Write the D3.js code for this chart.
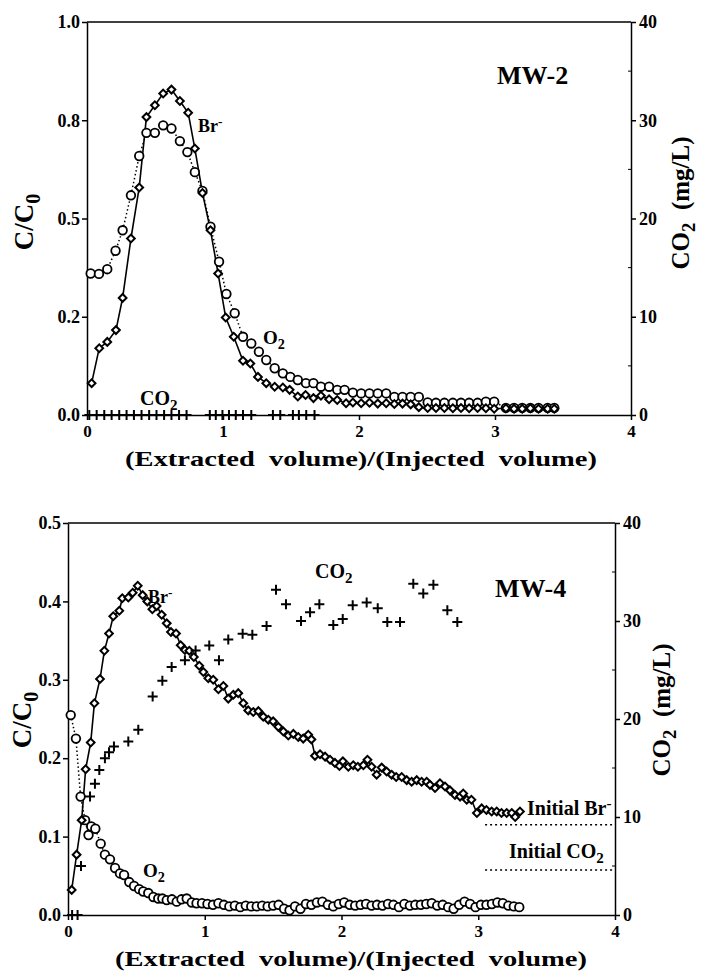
<!DOCTYPE html>
<html>
<head>
<meta charset="utf-8">
<script src="https://cdn.jsdelivr.net/npm/d3@7"></script>
<style>
body { margin: 0; background: #fff; }
text { font-family: "Liberation Serif", "Times New Roman", serif; font-weight: bold; fill: #000; }
</style>
</head>
<body>
<svg id="chart" width="701" height="976"></svg>
<script>
// ---- axis ticks ----
const xTicks = [0, 1, 2, 3, 4]
const rightTicks = [0, 10, 20, 30, 40]
const rightMinor = [5, 15, 25, 35]
const mw2LeftTicks = [0, 0.25, 0.5, 0.75, 1]
const mw2LeftLabels = ["0.0", "0.2", "0.5", "0.8", "1.0"]
const mw4LeftTicks = [0, 0.1, 0.2, 0.3, 0.4, 0.5]
const mw4LeftLabels = ["0.0", "0.1", "0.2", "0.3", "0.4", "0.5"]

// ---- MW-2 : [volume ratio, C/C0] ----
const mw2Br = [[0.034,0.081],[0.09,0.17],[0.149,0.186],[0.213,0.216],[0.262,0.298],[0.323,0.449],[0.384,0.579],[0.437,0.758],
  [0.499,0.788],[0.56,0.818],[0.621,0.828],[0.683,0.799],[0.744,0.769],[0.793,0.678],[0.849,0.565],[0.908,0.47],[0.964,0.36],
  [1.02,0.248],[1.079,0.199],[1.147,0.138],[1.201,0.131],[1.257,0.097],[1.318,0.081],[1.38,0.072],[1.44,0.07],[1.49,0.064],
  [1.55,0.047],[1.607,0.051],[1.665,0.043],[1.72,0.049],[1.78,0.04],[1.84,0.038],[1.905,0.03],[1.955,0.032],[2.016,0.03],
  [2.077,0.031],[2.138,0.029],[2.2,0.03],[2.26,0.028],[2.32,0.029],[2.38,0.027],[2.44,0.02],[2.505,0.018],[2.566,0.018],
  [2.628,0.018],[2.69,0.017],[2.75,0.018],[2.81,0.017],[2.872,0.018],[2.933,0.017],[2.994,0.016],[3.08,0.017],[3.14,0.016],
  [3.2,0.016],[3.26,0.017],[3.32,0.016],[3.387,0.016],[3.436,0.016]]
const mw2O2 = [[0.027,0.36],[0.088,0.359],[0.149,0.371],[0.21,0.418],[0.262,0.47],[0.323,0.559],[0.384,0.659],[0.437,0.718],
  [0.499,0.718],[0.56,0.737],[0.621,0.729],[0.683,0.697],[0.738,0.669],[0.793,0.618],[0.849,0.57],[0.908,0.479],[0.971,0.39],
  [1.025,0.308],[1.086,0.259],[1.147,0.199],[1.208,0.182],[1.264,0.161],[1.318,0.14],[1.38,0.119],[1.44,0.106],[1.495,0.097],
  [1.55,0.089],[1.61,0.081],[1.665,0.081],[1.72,0.072],[1.78,0.072],[1.84,0.064],[1.894,0.064],[1.955,0.057],[2.016,0.055],
  [2.077,0.055],[2.138,0.055],[2.2,0.055],[2.26,0.046],[2.32,0.046],[2.38,0.046],[2.44,0.046],[2.505,0.032],[2.566,0.031],
  [2.628,0.031],[2.69,0.031],[2.75,0.031],[2.81,0.031],[2.872,0.031],[2.933,0.034],[2.994,0.034],[3.08,0.018],[3.14,0.018],
  [3.2,0.018],[3.26,0.018],[3.32,0.018],[3.387,0.018],[3.436,0.018]]
// CO2 (mg/L) - all zero at MW-2
const mw2CO2 = [[0.017,0],[0.071,0],[0.127,0],[0.181,0],[0.237,0],[0.291,0],[0.345,0],[0.401,0],[0.457,0],[0.511,0],
  [0.567,0],[0.621,0],[0.677,0],[0.732,0],[0.903,0],[0.947,0],[0.996,0],[1.044,0],[1.094,0],[1.147,0],[1.208,0],
  [1.367,0],[1.421,0],[1.514,0],[1.558,0],[1.612,0],[1.673,0]]

// ---- MW-4 ----
const mw4Br = [[0.027,0.032],[0.063,0.077],[0.1,0.121],[0.129,0.186],[0.166,0.22],[0.193,0.27],[0.234,0.301],[0.266,0.337],
  [0.3,0.359],[0.331,0.381],[0.375,0.388],[0.397,0.404],[0.441,0.405],[0.473,0.411],[0.51,0.42],[0.546,0.408],[0.58,0.4],
  [0.617,0.39],[0.648,0.394],[0.685,0.383],[0.722,0.372],[0.753,0.361],[0.79,0.359],[0.824,0.344],[0.855,0.338],[0.887,0.337],
  [0.92,0.329],[0.96,0.318],[0.99,0.31],[1.026,0.302],[1.062,0.3],[1.1,0.288],[1.136,0.292],[1.172,0.276],[1.209,0.281],
  [1.245,0.283],[1.282,0.27],[1.318,0.261],[1.355,0.259],[1.392,0.26],[1.428,0.253],[1.465,0.249],[1.5,0.247],[1.538,0.24],
  [1.575,0.234],[1.611,0.229],[1.648,0.231],[1.684,0.227],[1.72,0.225],[1.757,0.23],[1.78,0.224],[1.806,0.203],[1.843,0.205],
  [1.88,0.202],[1.916,0.198],[1.952,0.194],[1.985,0.19],[2.01,0.196],[2.05,0.189],[2.086,0.191],[2.12,0.189],[2.16,0.191],
  [2.19,0.198],[2.22,0.189],[2.257,0.179],[2.294,0.188],[2.33,0.183],[2.367,0.179],[2.4,0.176],[2.44,0.176],[2.477,0.172],
  [2.513,0.17],[2.55,0.172],[2.586,0.17],[2.623,0.17],[2.647,0.166],[2.684,0.162],[2.72,0.168],[2.757,0.164],[2.793,0.159],
  [2.83,0.153],[2.867,0.151],[2.89,0.155],[2.916,0.147],[2.95,0.147],[2.99,0.13],[3.025,0.136],[3.06,0.134],[3.098,0.132],
  [3.135,0.132],[3.17,0.13],[3.208,0.13],[3.245,0.13],[3.27,0.125],[3.305,0.132]]
const mw4O2 = [[0.02,0.255],[0.058,0.225],[0.092,0.151],[0.125,0.121],[0.15,0.102],[0.17,0.113],[0.2,0.11],[0.239,0.091],
  [0.27,0.077],[0.307,0.071],[0.344,0.06],[0.38,0.053],[0.41,0.051],[0.448,0.042],[0.483,0.037],[0.52,0.033],[0.55,0.03],
  [0.587,0.028],[0.624,0.023],[0.66,0.021],[0.69,0.021],[0.722,0.019],[0.76,0.02],[0.795,0.017],[0.83,0.02],[0.868,0.021],
  [0.905,0.016],[0.94,0.015],[0.98,0.015],[1.02,0.014],[1.06,0.013],[1.1,0.015],[1.14,0.013],[1.18,0.011],[1.22,0.012],
  [1.26,0.01],[1.3,0.012],[1.34,0.011],[1.38,0.011],[1.42,0.012],[1.46,0.011],[1.5,0.012],[1.54,0.013],[1.58,0.008],
  [1.62,0.006],[1.66,0.011],[1.7,0.008],[1.74,0.014],[1.78,0.013],[1.82,0.016],[1.86,0.017],[1.9,0.013],[1.94,0.011],
  [1.98,0.014],[2.02,0.016],[2.06,0.013],[2.1,0.012],[2.14,0.013],[2.18,0.014],[2.22,0.012],[2.26,0.013],[2.3,0.012],
  [2.34,0.014],[2.38,0.013],[2.42,0.01],[2.46,0.014],[2.5,0.012],[2.54,0.013],[2.58,0.013],[2.62,0.014],[2.66,0.015],
  [2.7,0.012],[2.74,0.013],[2.78,0.01],[2.82,0.008],[2.86,0.013],[2.9,0.017],[2.94,0.014],[2.98,0.01],[3.02,0.013],
  [3.06,0.013],[3.1,0.014],[3.14,0.016],[3.18,0.015],[3.22,0.012],[3.26,0.011],[3.3,0.01]]
const mw4CO2 = [[0.03,0],[0.07,0],[0.095,5.0],[0.161,12.1],[0.197,13.4],[0.229,14.8],[0.27,16.0],[0.3,16.6],[0.336,17.2],
  [0.441,17.7],[0.514,18.9],[0.619,22.3],[0.69,23.9],[0.758,25.3],[0.855,26.0],[0.933,27.0],[1.033,27.5],[1.104,26.0],
  [1.172,28.1],[1.277,28.7],[1.348,28.6],[1.452,29.5],[1.521,33.2],[1.594,31.7],[1.704,30.0],[1.77,30.9],[1.838,31.7],
  [1.94,29.6],[2.009,30.2],[2.082,31.6],[2.184,31.9],[2.265,31.3],[2.335,29.9],[2.428,29.9],[2.525,33.8],[2.598,32.8],
  [2.672,33.7],[2.774,31.1],[2.847,29.9]]
// initial levels (dotted reference lines at MW-4)
const initialBr = 0.115      // C/C0
const initialCO2 = 4.6       // mg/L
const initialFrom = 3.05

const svg = d3.select('#chart')

function addText(g, x, y, parts, size, anchor) {
  const t = g.append('text').attr('x', x).attr('y', y).attr('font-size', size).attr('text-anchor', anchor || 'start')
  parts.forEach(p => {
    const s = t.append('tspan').text(p.t)
    if (p.sub) s.attr('font-size', size * 0.75).attr('dy', size * 0.25)
    if (p.sup) s.attr('font-size', size * 0.75).attr('dy', -size * 0.35)
    if (p.back) s.attr('dy', p.back)
  })
  return t
}

function panel(cfg) {
  const g = svg.append('g')
  const x = d3.scaleLinear().domain([0, 4]).range([cfg.left, cfg.right])
  const yL = d3.scaleLinear().domain([0, cfg.yMax]).range([cfg.bottom, cfg.top])
  const yR = d3.scaleLinear().domain([0, 40]).range([cfg.bottom, cfg.top])

  g.append('line')
    .attr('x1', cfg.left).attr('x2', cfg.right)
    .attr('y1', cfg.top).attr('y2', cfg.top)
    .attr('stroke', '#000').attr('stroke-width', 1.3)

  const xa = g.append('g').attr('transform', `translate(0,${cfg.bottom})`)
    .call(d3.axisBottom(x).tickValues(xTicks).tickFormat(d3.format('d')).tickSize(5).tickSizeOuter(0).tickPadding(5))
  const la = g.append('g').attr('transform', `translate(${cfg.left},0)`)
    .call(d3.axisLeft(yL).tickValues(cfg.leftTicks).tickFormat((d, i) => cfg.leftLabels[i]).tickSize(5).tickSizeOuter(0).tickPadding(2))
  const ra = g.append('g').attr('transform', `translate(${cfg.right},0)`)
    .call(d3.axisRight(yR).tickValues(rightTicks).tickSize(5).tickSizeOuter(0).tickPadding(3))
  g.append('g').selectAll('line').data(rightMinor).join('line')
    .attr('x1', cfg.right - 3).attr('x2', cfg.right)
    .attr('y1', d => yR(d)).attr('y2', d => yR(d))
    .attr('stroke', '#000').attr('stroke-width', 1)

  ;[xa, la, ra].forEach(a => {
    a.select('.domain').attr('stroke', '#000').attr('stroke-width', 1.5)
    a.selectAll('.tick line').attr('stroke', '#000').attr('stroke-width', 1.5)
    a.selectAll('text').attr('font-size', null).style('font-size', '18px').style('font-family', null)
  })
  xa.selectAll('text').style('font-size', '17px')

  // O2 dotted line, Br- solid line
  const line = d3.line().x(d => x(d[0])).y(d => yL(d[1]))
  g.append('path').datum(cfg.o2).attr('d', line)
    .attr('fill', 'none').attr('stroke', '#000').attr('stroke-width', 1.5).attr('stroke-dasharray', '1.5,2.5')
  g.append('path').datum(cfg.br).attr('d', line)
    .attr('fill', 'none').attr('stroke', '#000').attr('stroke-width', 1.6)

  g.append('g').selectAll('circle').data(cfg.o2).join('circle')
    .attr('cx', d => x(d[0])).attr('cy', d => yL(d[1])).attr('r', 4.3)
    .attr('fill', '#fff').attr('stroke', '#000').attr('stroke-width', 1.8)

  const diamond = d3.symbol().type(d3.symbolSquare).size(30)
  g.append('g').selectAll('path').data(cfg.br).join('path')
    .attr('d', diamond)
    .attr('transform', d => `translate(${x(d[0])},${yL(d[1])}) rotate(45)`)
    .attr('fill', '#fff').attr('stroke', '#000').attr('stroke-width', 2)

  g.append('g').selectAll('path').data(cfg.co2).join('path')
    .attr('d', 'M-5,0H5M0,-5V5')
    .attr('transform', d => `translate(${x(d[0])},${yR(d[1])})`)
    .attr('fill', 'none').attr('stroke', '#000').attr('stroke-width', 2)

  // axis titles
  g.append('text')
    .attr('x', cfg.xTitleX).attr('y', cfg.xTitleY)
    .attr('font-size', 22)
    .attr('textLength', 472).attr('lengthAdjust', 'spacingAndGlyphs')
    .style('white-space', 'pre')
    .text('(Extracted  volume)/(Injected  volume)')

  addText(g.append('g').attr('transform', `translate(${cfg.yTitleLX},${cfg.yTitleLY}) rotate(-90)`),
    0, 0, [{ t: 'C/C' }, { t: '0', sub: true }], 27, 'middle')
  addText(g.append('g').attr('transform', `translate(${cfg.yTitleRX},${cfg.yTitleRY}) rotate(-90)`),
    0, 0, [{ t: 'CO' }, { t: '2', sub: true }, { t: '  (mg/L)', back: -25 * 0.25 }], 25, 'middle')
    .style('white-space', 'pre')

  addText(g, cfg.nameX, cfg.nameY, [{ t: cfg.name }], 26)
  return { g, x, yL, yR }
}

// ---- MW-2 ----
const p1 = panel({
  left: 87, right: 631, top: 22, bottom: 415, yMax: 1,
  leftTicks: mw2LeftTicks, leftLabels: mw2LeftLabels,
  br: mw2Br, o2: mw2O2, co2: mw2CO2,
  xTitleX: 125, xTitleY: 466,
  yTitleLX: 33, yTitleLY: 222, yTitleRX: 689, yTitleRY: 203,
  name: 'MW-2', nameX: 497, nameY: 84
})
addText(p1.g, 198, 132, [{ t: 'Br' }, { t: '-', sup: true }], 18)
addText(p1.g, 263, 344, [{ t: 'O' }, { t: '2', sub: true }], 19)
addText(p1.g, 140, 405, [{ t: 'CO' }, { t: '2', sub: true }], 20)

// ---- MW-4 ----
const p2 = panel({
  left: 68, right: 615, top: 523, bottom: 915, yMax: 0.5,
  leftTicks: mw4LeftTicks, leftLabels: mw4LeftLabels,
  br: mw4Br, o2: mw4O2, co2: mw4CO2,
  xTitleX: 115, xTitleY: 966,
  yTitleLX: 31, yTitleLY: 720, yTitleRX: 670, yTitleRY: 710,
  name: 'MW-4', nameX: 495, nameY: 597
})
addText(p2.g, 148, 603, [{ t: 'Br' }, { t: '-', sup: true }], 18)
addText(p2.g, 315, 578, [{ t: 'CO' }, { t: '2', sub: true }], 20)
addText(p2.g, 143, 877, [{ t: 'O' }, { t: '2', sub: true }], 19)

p2.g.append('line')
  .attr('x1', p2.x(initialFrom)).attr('x2', p2.x(4))
  .attr('y1', p2.yL(initialBr)).attr('y2', p2.yL(initialBr))
  .attr('stroke', '#000').attr('stroke-width', 1.5).attr('stroke-dasharray', '2,3')
p2.g.append('line')
  .attr('x1', p2.x(initialFrom)).attr('x2', p2.x(4))
  .attr('y1', p2.yR(initialCO2)).attr('y2', p2.yR(initialCO2))
  .attr('stroke', '#000').attr('stroke-width', 1.5).attr('stroke-dasharray', '2,3')
addText(p2.g, 527, 815, [{ t: 'Initial Br' }, { t: '-', sup: true }], 20)
addText(p2.g, 509, 858, [{ t: 'Initial CO' }, { t: '2', sub: true }], 20)
</script>
</body>
</html>
